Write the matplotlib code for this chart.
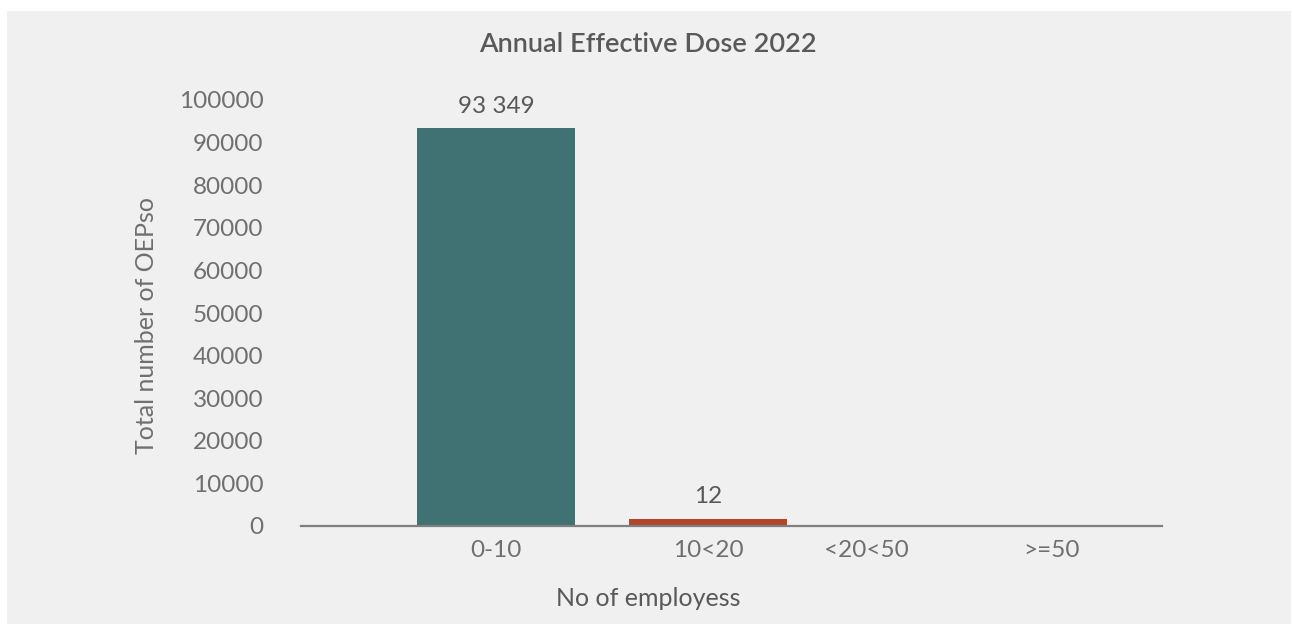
import matplotlib
matplotlib.use("Agg")
import matplotlib.pyplot as plt
from matplotlib.patches import Rectangle

plt.rcParams['font.family'] = ['Lato', 'DejaVu Sans']

# data
categories = ['0-10', '10<20', '<20<50', '>=50']
values = [93349, 12, 0, 0]
value_labels = ['93 349', '12', '', '']
bar_colors = ['#407273', '#b2442a', '#407273', '#407273']

title = 'Annual Effective Dose 2022'
xlabel = 'No of employess'
ylabel = 'Total number of OEPso'
yticks = [0, 10000, 20000, 30000, 40000, 50000, 60000, 70000, 80000, 90000, 100000]

# label slots along the category axis (the last two sit closer together)
tick_slots = [0, 1, 1.745, 2.62]

W, H, DPI = 1293, 624, 100
fig = plt.figure(figsize=(W / DPI, H / DPI), dpi=DPI, facecolor='white')

# light grey chart panel with a thin white margin on the top and left
fig.patches.append(Rectangle((7 / W, 0), (1291 - 7) / W, (H - 11) / H,
                             transform=fig.transFigure, facecolor='#f0f0f0',
                             edgecolor='none', zorder=-1))

ax = fig.add_axes([301 / W, 1 - 526 / H, (1162 - 301) / W, (526 - 100) / H])
ax.set_facecolor('none')

px_per_unit = 212.0
bar_width = 158 / px_per_unit
# bars too short to see get a thick edge so they still show above the axis line
edge_px = 14
min_visible = 2000

for i, (v, c) in enumerate(zip(values[:2], bar_colors[:2])):
    if v < min_visible:
        ax.bar(i, v, width=bar_width, color=c,
               edgecolor=c, linewidth=edge_px * 72 / DPI, joinstyle='miter')
    else:
        ax.bar(i, v, width=bar_width, color=c, linewidth=0)

for i, (v, lab) in enumerate(zip(values, value_labels)):
    if not lab:
        continue
    off = 22 if v > min_visible else 29
    ax.annotate(lab, (i, v), xytext=(0, off), textcoords='offset pixels',
                ha='center', va='center', fontsize=17.5, color='#595959')

ax.set_xlim(-(496 - 301) / px_per_unit, (1162 - 496) / px_per_unit)
ax.set_ylim(0, 100000)

ax.set_yticks(yticks)
ax.set_yticklabels([str(t) for t in yticks])
ax.set_xticks(tick_slots)
ax.set_xticklabels(categories)
ax.tick_params(axis='both', length=0, labelsize=17.5, labelcolor='#6f6f72')
ax.tick_params(axis='y', pad=27)
ax.tick_params(axis='x', pad=10)

for s in ['top', 'right', 'left']:
    ax.spines[s].set_visible(False)
ax.spines['bottom'].set_color('#7f7f7f')
ax.spines['bottom'].set_linewidth(1.6)

fig.text(648 / W, 1 - 44 / H, title, ha='center', va='center',
         fontsize=19.5, fontweight='semibold', color='#595959')
fig.text(648 / W, 1 - 598 / H, xlabel, ha='center', va='center',
         fontsize=18, color='#595959')
fig.text(147 / W, 1 - 326 / H, ylabel, ha='center', va='center',
         rotation=90, fontsize=18, color='#6f6f72')

fig.savefig('out.png', dpi=DPI, facecolor='white')
